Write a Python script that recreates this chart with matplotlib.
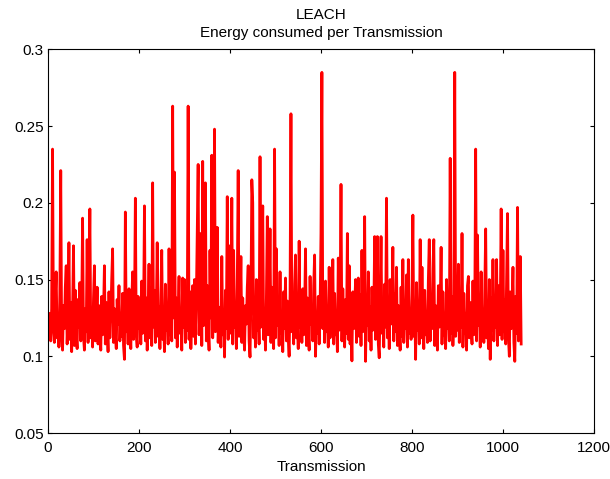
import numpy as np
import matplotlib
matplotlib.use('Agg')
import matplotlib.pyplot as plt
from matplotlib.ticker import FixedLocator, FixedFormatter

plt.rcParams['font.family'] = ['Liberation Sans', 'DejaVu Sans']

# energy used in each transmission, one value every 2 transmissions (0..1040)
step = 2
energy = [
    0.120, 0.112, 0.128, 0.110, 0.131, 0.235, 0.118, 0.109, 0.138, 0.155, 0.112, 0.127, 0.106, 0.140, 0.221, 0.113, 0.104, 0.133, 0.118, 0.145,
    0.159, 0.108, 0.126, 0.174, 0.111, 0.135, 0.103, 0.129, 0.172, 0.107, 0.143, 0.115, 0.105, 0.137, 0.119, 0.148, 0.110, 0.128, 0.190, 0.113,
    0.104, 0.131, 0.116, 0.176, 0.109, 0.140, 0.196, 0.112, 0.127, 0.106, 0.138, 0.159, 0.110, 0.122, 0.145, 0.108, 0.133, 0.117, 0.104, 0.139,
    0.114, 0.128, 0.159, 0.108, 0.135, 0.119, 0.103, 0.142, 0.112, 0.126, 0.150, 0.170, 0.109, 0.131, 0.115, 0.105, 0.137, 0.121, 0.146, 0.110,
    0.128, 0.113, 0.141, 0.107, 0.098, 0.194, 0.116, 0.130, 0.108, 0.144, 0.119, 0.105, 0.134, 0.155, 0.111, 0.127, 0.203, 0.114, 0.106, 0.139,
    0.118, 0.131, 0.108, 0.149, 0.115, 0.126, 0.198, 0.110, 0.138, 0.104, 0.129, 0.160, 0.112, 0.135, 0.107, 0.213, 0.119, 0.143, 0.109, 0.127,
    0.174, 0.113, 0.132, 0.105, 0.140, 0.169, 0.111, 0.126, 0.103, 0.147, 0.117, 0.133, 0.108, 0.170, 0.114, 0.129, 0.110, 0.263, 0.125, 0.220,
    0.112, 0.138, 0.106, 0.130, 0.152, 0.115, 0.127, 0.104, 0.151, 0.119, 0.150, 0.109, 0.134, 0.117, 0.263, 0.111, 0.142, 0.105, 0.128, 0.146,
    0.113, 0.150, 0.108, 0.136, 0.178, 0.225, 0.114, 0.131, 0.180, 0.107, 0.227, 0.120, 0.139, 0.213, 0.110, 0.146, 0.118, 0.104, 0.169, 0.125,
    0.231, 0.112, 0.141, 0.248, 0.116, 0.137, 0.184, 0.109, 0.132, 0.120, 0.106, 0.165, 0.114, 0.128, 0.0995, 0.143, 0.118, 0.204, 0.111, 0.172,
    0.115, 0.130, 0.203, 0.108, 0.169, 0.119, 0.135, 0.105, 0.148, 0.221, 0.113, 0.127, 0.165, 0.109, 0.138, 0.116, 0.104, 0.133, 0.121, 0.145,
    0.159, 0.110, 0.0995, 0.136, 0.215, 0.200, 0.112, 0.129, 0.106, 0.150, 0.117, 0.134, 0.108, 0.230, 0.119, 0.141, 0.198, 0.111, 0.126, 0.104,
    0.138, 0.191, 0.114, 0.130, 0.183, 0.109, 0.145, 0.117, 0.105, 0.235, 0.112, 0.170, 0.120, 0.133, 0.107, 0.155, 0.115, 0.128, 0.103, 0.142,
    0.118, 0.151, 0.110, 0.136, 0.113, 0.100, 0.140, 0.258, 0.116, 0.131, 0.108, 0.147, 0.166, 0.112, 0.127, 0.105, 0.175, 0.119, 0.134, 0.109,
    0.144, 0.114, 0.129, 0.170, 0.107, 0.138, 0.117, 0.104, 0.152, 0.121, 0.133, 0.110, 0.146, 0.166, 0.100, 0.127, 0.115, 0.139, 0.108, 0.131,
    0.180, 0.285, 0.118, 0.137, 0.109, 0.149, 0.116, 0.130, 0.106, 0.158, 0.112, 0.135, 0.119, 0.163, 0.108, 0.141, 0.114, 0.126, 0.103, 0.164,
    0.117, 0.133, 0.212, 0.110, 0.144, 0.120, 0.106, 0.137, 0.115, 0.180, 0.111, 0.159, 0.108, 0.128, 0.097, 0.142, 0.118, 0.131, 0.150, 0.109,
    0.135, 0.151, 0.113, 0.140, 0.107, 0.169, 0.116, 0.129, 0.191, 0.0967, 0.138, 0.120, 0.155, 0.110, 0.132, 0.104, 0.145, 0.117, 0.126, 0.178,
    0.111, 0.139, 0.178, 0.108, 0.099, 0.134, 0.178, 0.115, 0.129, 0.106, 0.147, 0.119, 0.203, 0.112, 0.136, 0.105, 0.150, 0.121, 0.130, 0.171,
    0.110, 0.141, 0.116, 0.158, 0.107, 0.133, 0.119, 0.104, 0.145, 0.113, 0.163, 0.109, 0.130, 0.118, 0.153, 0.106, 0.163, 0.115, 0.128, 0.111,
    0.140, 0.192, 0.113, 0.131, 0.098, 0.148, 0.117, 0.135, 0.108, 0.176, 0.112, 0.158, 0.120, 0.105, 0.143, 0.114, 0.129, 0.109, 0.150, 0.176,
    0.110, 0.137, 0.118, 0.157, 0.176, 0.107, 0.133, 0.116, 0.104, 0.146, 0.119, 0.131, 0.171, 0.108, 0.142, 0.114, 0.127, 0.105, 0.150, 0.118,
    0.132, 0.110, 0.229, 0.115, 0.139, 0.107, 0.128, 0.285, 0.113, 0.145, 0.117, 0.160, 0.109, 0.134, 0.119, 0.180, 0.106, 0.141, 0.115, 0.128,
    0.104, 0.146, 0.152, 0.112, 0.135, 0.118, 0.108, 0.149, 0.114, 0.130, 0.235, 0.110, 0.179, 0.120, 0.137, 0.106, 0.155, 0.116, 0.129, 0.109,
    0.143, 0.183, 0.112, 0.131, 0.105, 0.150, 0.098, 0.138, 0.117, 0.163, 0.110, 0.134, 0.119, 0.163, 0.107, 0.146, 0.114, 0.128, 0.196, 0.111,
    0.169, 0.116, 0.137, 0.108, 0.150, 0.193, 0.112, 0.100, 0.142, 0.118, 0.131, 0.158, 0.109, 0.0967, 0.139, 0.115, 0.197, 0.110, 0.130, 0.165,
    0.108,
]
transmission = np.arange(len(energy)) * step

xticks = [0, 200, 400, 600, 800, 1000, 1200]
yticks = [0.05, 0.1, 0.15, 0.2, 0.25, 0.3]
ylabels = ['0.05', '0.1', '0.15', '0.2', '0.25', '0.3']

fig = plt.figure(figsize=(6.1, 4.79), dpi=100)
ax = fig.add_axes([0.0787, 0.096, 0.895, 0.801])

ax.plot(transmission, energy, color='red', linewidth=2)

ax.set_xlim(0, 1200)
ax.set_ylim(0.05, 0.3)
ax.xaxis.set_major_locator(FixedLocator(xticks))
ax.yaxis.set_major_locator(FixedLocator(yticks))
ax.yaxis.set_major_formatter(FixedFormatter(ylabels))
ax.tick_params(direction='in', length=3, width=0.8, top=True, right=True,
               labelsize=11)
ax.tick_params(axis='x', pad=5.5)
ax.tick_params(axis='y', pad=3)
for s in ax.spines.values():
    s.set_linewidth(0.8)

ax.set_xlabel('Transmission', fontsize=11, labelpad=3.5)
ax.set_title('LEACH\nEnergy consumed per Transmission', fontsize=11, pad=9,
             linespacing=1.35)

fig.savefig('out.png', dpi=100)
